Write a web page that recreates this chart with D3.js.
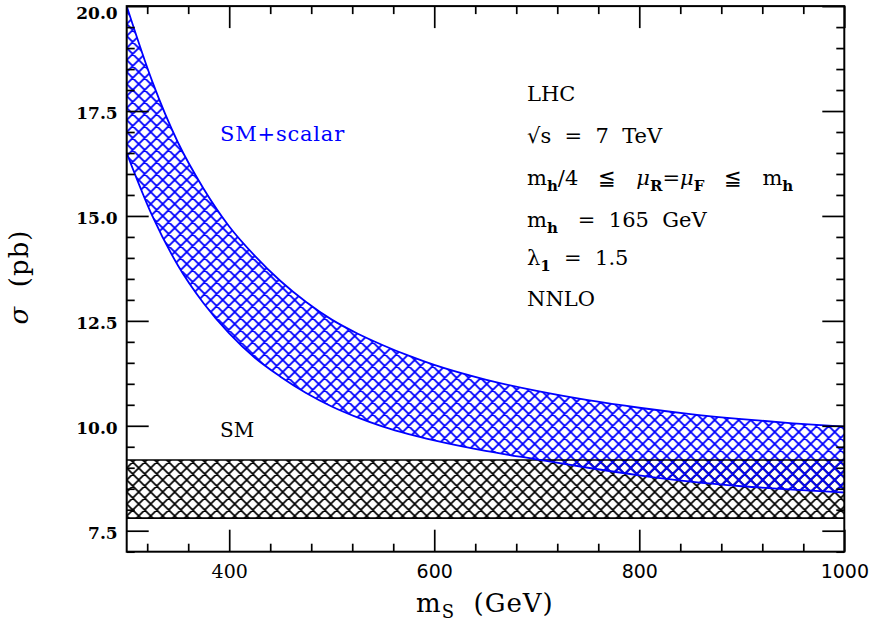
<!DOCTYPE html>
<html>
<head>
<meta charset="utf-8">
<script src="https://cdn.jsdelivr.net/npm/d3@7"></script>
<style>
  html, body { margin: 0; padding: 0; background: #fff; }
  svg text { font-family: "DejaVu Serif", "Liberation Serif", serif; }
</style>
</head>
<body>
<svg id="chart" width="869" height="623"></svg>
<script>
// values
const massGrid = [300, 325, 350, 375, 400, 425, 450, 475, 500, 525, 550, 575, 600, 650, 700, 750, 800, 850, 900, 950, 1000];
const scalarUpper = [20.0, 18.2, 16.75, 15.65, 14.75, 14.05, 13.45, 12.95, 12.53, 12.2, 11.92, 11.67, 11.45, 11.1, 10.83, 10.61, 10.43, 10.28, 10.16, 10.06, 9.98];
const scalarLower = [16.5, 15.0, 13.82, 12.92, 12.2, 11.62, 11.17, 10.78, 10.46, 10.2, 9.98, 9.8, 9.65, 9.4, 9.2, 9.0, 8.82, 8.67, 8.56, 8.48, 8.41];
const smLow = 7.8;
const smHigh = 9.185;
const xMajorTicks = [400, 600, 800, 1000];
const xMinorTicks = [320, 360, 440, 480, 520, 560, 640, 680, 720, 760, 840, 880, 920, 960];
const yMajorTicks = [7.5, 10, 12.5, 15, 17.5, 20];
const yMinorTicks = [7, 8, 8.5, 9, 9.5, 10.5, 11, 11.5, 12, 13, 13.5, 14, 14.5, 15.5, 16, 16.5, 17, 18, 18.5, 19, 19.5];

(() => {
  const svg = d3.select("#chart");

  const left = 126.7, right = 844.3, top = 6.1, bottom = 551.7;

  const x = d3.scaleLinear().domain([300, 1000]).range([left, right]);
  const y = d3.scaleLinear().domain([7, 20]).range([bottom, top]);

  // hatch patterns
  const defs = svg.append("defs");
  const hatch = (id, color, w) => {
    const p = defs.append("pattern")
      .attr("id", id)
      .attr("patternUnits", "userSpaceOnUse")
      .attr("width", 12).attr("height", 12)
      .attr("x", left).attr("y", 0);
    p.append("path")
      .attr("d", "M0,0 L12,12 M0,12 L12,0 M-3,3 L3,-3 M9,15 L15,9 M-3,9 L3,15 M9,-3 L15,3")
      .attr("stroke", color)
      .attr("stroke-width", w)
      .attr("fill", "none");
  };
  hatch("hatchBlack", "#000", 1.7);
  hatch("hatchBlue", "#0000ff", 1.8);

  defs.append("clipPath").attr("id", "plotClip")
    .append("rect")
    .attr("x", left).attr("y", top)
    .attr("width", right - left).attr("height", bottom - top);

  const plot = svg.append("g").attr("clip-path", "url(#plotClip)");

  // SM band
  plot.append("rect")
    .attr("x", x(300)).attr("y", y(smHigh))
    .attr("width", x(1000) - x(300))
    .attr("height", y(smLow) - y(smHigh))
    .attr("fill", "url(#hatchBlack)");

  // SM+scalar band
  const band = massGrid.map((m, i) => ({m: m, lo: scalarLower[i], hi: scalarUpper[i]}));

  const area = d3.area()
    .x(d => x(d.m))
    .y0(d => y(d.lo))
    .y1(d => y(d.hi))
    .curve(d3.curveMonotoneX);

  plot.append("path")
    .datum(band)
    .attr("d", area)
    .attr("fill", "url(#hatchBlue)");

  // outlines
  plot.selectAll("line.sm")
    .data([smLow, smHigh])
    .enter()
    .append("line")
    .attr("class", "sm")
    .attr("x1", x(300)).attr("x2", x(1000))
    .attr("y1", d => y(d)).attr("y2", d => y(d))
    .attr("stroke", "#000")
    .attr("stroke-width", 1.7);

  const lineHi = d3.line().x(d => x(d.m)).y(d => y(d.hi)).curve(d3.curveMonotoneX);
  const lineLo = d3.line().x(d => x(d.m)).y(d => y(d.lo)).curve(d3.curveMonotoneX);

  plot.append("path").datum(band).attr("d", lineHi)
    .attr("fill", "none").attr("stroke", "#0000ff").attr("stroke-width", 1.8);
  plot.append("path").datum(band).attr("d", lineLo)
    .attr("fill", "none").attr("stroke", "#0000ff").attr("stroke-width", 1.8);

  // axes, ticks on all four sides pointing inward
  const major = 22, minor = 8;

  const styleAxis = g => {
    g.select(".domain").remove();
    g.selectAll(".tick line").attr("stroke", "#000").attr("stroke-width", 1.7);
  };

  const gx = svg.append("g").attr("transform", `translate(0,${bottom})`);
  gx.call(d3.axisBottom(x).tickValues(xMajorTicks).tickSize(-major).tickPadding(13).tickFormat(d3.format("d")))
    .call(styleAxis);
  gx.selectAll(".tick text")
    .attr("font-size", 19)
    .attr("fill", "#000")
    .style("font-family", d => d === 400 ? "'DejaVu Serif', serif" : "'DejaVu Sans', sans-serif");

  svg.append("g").attr("transform", `translate(0,${bottom})`)
    .call(d3.axisBottom(x).tickValues(xMinorTicks).tickSize(-minor).tickFormat(""))
    .call(styleAxis);

  svg.append("g").attr("transform", `translate(0,${top})`)
    .call(d3.axisTop(x).tickValues(xMajorTicks).tickSize(-major).tickFormat(""))
    .call(styleAxis);
  svg.append("g").attr("transform", `translate(0,${top})`)
    .call(d3.axisTop(x).tickValues(xMinorTicks).tickSize(-minor).tickFormat(""))
    .call(styleAxis);

  const gy = svg.append("g").attr("transform", `translate(${left},0)`);
  gy.call(d3.axisLeft(y).tickValues(yMajorTicks).tickSize(-major).tickPadding(9).tickFormat(d3.format(".1f")))
    .call(styleAxis);
  gy.selectAll(".tick text")
    .attr("font-size", 17)
    .attr("font-weight", "bold")
    .attr("fill", "#000")
    .attr("dy", d => d === 20 ? "0.72em" : "0.45em");

  svg.append("g").attr("transform", `translate(${left},0)`)
    .call(d3.axisLeft(y).tickValues(yMinorTicks).tickSize(-minor).tickFormat(""))
    .call(styleAxis);

  svg.append("g").attr("transform", `translate(${right},0)`)
    .call(d3.axisRight(y).tickValues(yMajorTicks).tickSize(-major).tickFormat(""))
    .call(styleAxis);
  svg.append("g").attr("transform", `translate(${right},0)`)
    .call(d3.axisRight(y).tickValues(yMinorTicks).tickSize(-minor).tickFormat(""))
    .call(styleAxis);

  // frame
  svg.append("rect")
    .attr("x", left).attr("y", top)
    .attr("width", right - left).attr("height", bottom - top)
    .attr("fill", "none")
    .attr("stroke", "#000")
    .attr("stroke-width", 2);

  // axis titles
  const xt = svg.append("text")
    .attr("x", 416).attr("y", 612)
    .attr("font-size", 26)
    .attr("letter-spacing", 1)
    .attr("xml:space", "preserve")
    .attr("fill", "#000");
  xt.append("tspan").text("m");
  xt.append("tspan").attr("font-size", 18).attr("dy", 6).text("S");
  xt.append("tspan").attr("dy", -6).text("  (GeV)");

  const yt = svg.append("text")
    .attr("transform", "translate(28,277) rotate(-90)")
    .attr("text-anchor", "middle")
    .attr("font-size", 26)
    .attr("letter-spacing", 1)
    .attr("xml:space", "preserve")
    .attr("fill", "#000");
  yt.append("tspan").attr("font-style", "italic").text("σ");
  yt.append("tspan").text("  (pb)");

  // labels in the plot
  svg.append("text")
    .attr("x", 220).attr("y", 141)
    .attr("font-size", 21)
    .attr("letter-spacing", 0.8)
    .attr("fill", "#0000ff")
    .text("SM+scalar");

  svg.append("text")
    .attr("x", 220).attr("y", 437)
    .attr("font-size", 20)
    .attr("fill", "#000")
    .text("SM");

  const tx = 527;
  const info = svg.append("g").attr("font-size", 21).attr("fill", "#000");
  const sub = (t, s) => t.append("tspan").attr("font-size", 15).attr("font-weight", "bold").attr("dy", 6).text(s);

  info.append("text").attr("x", tx).attr("y", 101).text("LHC");

  info.append("text").attr("x", tx).attr("y", 143).attr("xml:space", "preserve").text("√s  =  7  TeV");

  const t3 = info.append("text").attr("x", tx).attr("y", 185).attr("xml:space", "preserve");
  t3.append("tspan").text("m");
  sub(t3, "h");
  t3.append("tspan").attr("dy", -6).text("/4   ≦   ");
  t3.append("tspan").attr("font-style", "italic").text("μ");
  sub(t3, "R");
  t3.append("tspan").attr("dy", -6).text("=");
  t3.append("tspan").attr("font-style", "italic").text("μ");
  sub(t3, "F");
  t3.append("tspan").attr("dy", -6).text("   ≦   m");
  sub(t3, "h");

  const t4 = info.append("text").attr("x", tx).attr("y", 227).attr("xml:space", "preserve");
  t4.append("tspan").text("m");
  sub(t4, "h");
  t4.append("tspan").attr("dy", -6).text("   =  165  GeV");

  const t5 = info.append("text").attr("x", tx).attr("y", 265).attr("xml:space", "preserve");
  t5.append("tspan").text("λ");
  sub(t5, "1");
  t5.append("tspan").attr("dy", -6).text("  =  1.5");

  info.append("text").attr("x", tx).attr("y", 306).text("NNLO");
})();
</script>
</body>
</html>
